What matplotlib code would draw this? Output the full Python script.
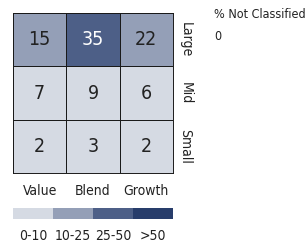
import matplotlib.pyplot as plt
import numpy as np
from matplotlib.colors import ListedColormap, BoundaryNorm

# Style box data
styles = ['Value', 'Blend', 'Growth']
sizes = ['Large', 'Mid', 'Small']
values = np.array([[15, 35, 22],
                   [7, 9, 6],
                   [2, 3, 2]])
legend_labels = ['0-10', '10-25', '25-50', '>50']
bounds = [0, 10, 25, 50, 100]
colors = ['#d5dae3', '#949fb7', '#4d5f87', '#283d6b']
not_classified = 0

plt.rcParams['font.family'] = ['DejaVu Sans']
plt.rcParams['font.stretch'] = 'condensed'

W, H = 307, 249
fig = plt.figure(figsize=(W / 100, H / 100), dpi=100)

def px_axes(x0, y0, x1, y1):
    return fig.add_axes([x0 / W, 1 - y1 / H, (x1 - x0) / W, (y1 - y0) / H])

cmap = ListedColormap(colors)
norm = BoundaryNorm(bounds, cmap.N)

# 3x3 style box
ax = px_axes(13, 13, 173, 173)
ax.pcolormesh(values, cmap=cmap, norm=norm, edgecolors='#1a1a1a', linewidth=0.7)
ax.set_xlim(0, 3)
ax.set_ylim(3, 0)
for i in range(3):
    for j in range(3):
        v = values[i, j]
        ax.text(j + 0.5, i + 0.5, str(v), ha='center', va='center', fontsize=14,
                color='white' if v >= 25 else '#222222')
ax.set_xticks(np.arange(3) + 0.5)
ax.set_xticklabels(styles, fontsize=10, color='#222222')
ax.tick_params(axis='x', length=0, pad=8)
ax.yaxis.tick_right()
ax.set_yticks(np.arange(3) + 0.5)
ax.set_yticklabels(sizes, rotation=-90, va='center', fontsize=10, color='#222222')
ax.tick_params(axis='y', length=0, pad=4)
for s in ax.spines.values():
    s.set_linewidth(0.7)
    s.set_color('#1a1a1a')

# colour key
lax = px_axes(13, 208, 173, 219)
lax.pcolormesh(np.array([[5, 15, 30, 60]]), cmap=cmap, norm=norm)
lax.set_xlim(0, 4)
lax.set_xticks(np.arange(4) + 0.5)
lax.set_xticklabels(legend_labels, fontsize=10, color='#222222')
lax.tick_params(axis='x', length=0, pad=7)
lax.set_yticks([])
for s in lax.spines.values():
    s.set_visible(False)

fig.text(214 / W, 1 - 15 / H, '% Not Classified', fontsize=9, va='center', ha='left', color='#222222')
fig.text(214 / W, 1 - 36 / H, str(not_classified), fontsize=9, va='center', ha='left', color='#222222')

fig.savefig('out.png', dpi=100)
